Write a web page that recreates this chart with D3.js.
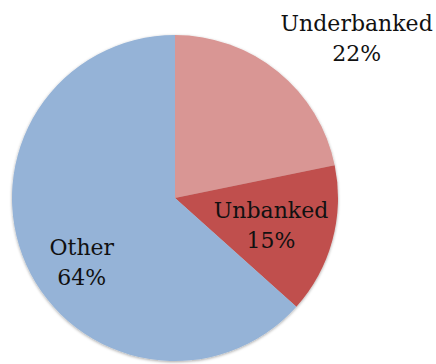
<!DOCTYPE html>
<html>
<head>
<meta charset="utf-8">
<script src="https://cdn.jsdelivr.net/npm/d3@7"></script>
<style>
  html, body { margin: 0; padding: 0; background: #ffffff; }
  svg { display: block; }
</style>
</head>
<body>
<svg id="chart" width="436" height="364"></svg>
<script>
// Share of households by banking status
const categories = ["Underbanked", "Unbanked", "Other"];
const shares = [22, 15, 64];
const sliceColors = ["#D99694", "#C0504D", "#95B3D7"];

// Label placement: radius factor and angular nudge (degrees) relative to slice middle
const labelRadiusFactor = [1.49, 0.61, 0.69];
const labelAngleNudge = [9.2, 0, -10];

const width = 436, height = 364;
const cx = 175, cy = 198, radius = 163;
const fontSize = 22, lineGap = 30;

const svg = d3.select("#chart");

const defs = svg.append("defs");
const shadow = defs.append("filter")
  .attr("id", "soft-shadow")
  .attr("x", "-10%").attr("y", "-10%")
  .attr("width", "120%").attr("height", "120%");
shadow.append("feDropShadow")
  .attr("dx", 0).attr("dy", 1)
  .attr("stdDeviation", 1.6)
  .attr("flood-color", "#000")
  .attr("flood-opacity", 0.35);

const data = categories.map((c, i) => ({ name: c, value: shares[i], color: sliceColors[i] }));

const pie = d3.pie().value(d => d.value).sort(null);
const arcs = pie(data);
const arc = d3.arc().innerRadius(0).outerRadius(radius);

const g = svg.append("g").attr("transform", `translate(${cx},${cy})`);

g.append("g")
  .attr("filter", "url(#soft-shadow)")
  .selectAll("path")
  .data(arcs)
  .join("path")
  .attr("d", arc)
  .attr("fill", d => d.data.color);

const labels = g.selectAll("text.label")
  .data(arcs)
  .join("text")
  .attr("class", "label")
  .attr("text-anchor", "middle")
  .attr("font-family", "'DejaVu Serif', 'Liberation Serif', serif")
  .attr("font-size", fontSize)
  .attr("fill", "#111")
  .attr("transform", (d, i) => {
    const a = (d.startAngle + d.endAngle) / 2 + labelAngleNudge[i] * Math.PI / 180;
    const r = radius * labelRadiusFactor[i];
    return `translate(${r * Math.sin(a)},${-r * Math.cos(a)})`;
  });

labels.append("tspan")
  .attr("x", 0)
  .attr("y", -lineGap / 2 + 9)
  .text(d => d.data.name);
labels.append("tspan")
  .attr("x", 0)
  .attr("y", lineGap / 2 + 9)
  .text(d => d3.format("d")(d.data.value) + "%");
</script>
</body>
</html>
